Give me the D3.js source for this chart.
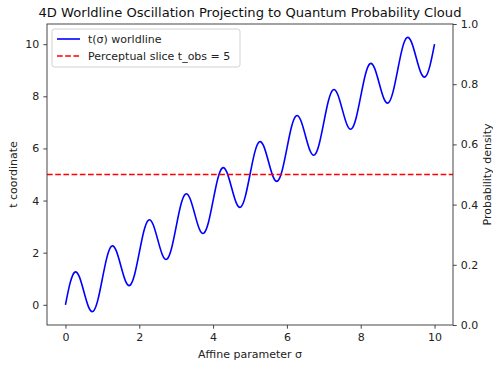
<!DOCTYPE html>
<html>
<head>
<meta charset="utf-8">
<script src="https://cdn.jsdelivr.net/npm/d3@7"></script>
<style>
  body { margin: 0; background: #fff; }
  svg { font-family: "DejaVu Sans", sans-serif; }
</style>
</head>
<body>
<div id="chart"></div>
<script>
// samples of the worldline, every 1/8 of sigma
const sigma = d3.range(81).map(i => i / 8);
const worldline = [
  0, 0.83, 1.25, 1.08, 0.5, -0.08, -0.25, 0.17,
  1, 1.83, 2.25, 2.08, 1.5, 0.92, 0.75, 1.17,
  2, 2.83, 3.25, 3.08, 2.5, 1.92, 1.75, 2.17,
  3, 3.83, 4.25, 4.08, 3.5, 2.92, 2.75, 3.17,
  4, 4.83, 5.25, 5.08, 4.5, 3.92, 3.75, 4.17,
  5, 5.83, 6.25, 6.08, 5.5, 4.92, 4.75, 5.17,
  6, 6.83, 7.25, 7.08, 6.5, 5.92, 5.75, 6.17,
  7, 7.83, 8.25, 8.08, 7.5, 6.92, 6.75, 7.17,
  8, 8.83, 9.25, 9.08, 8.5, 7.92, 7.75, 8.17,
  9, 9.83, 10.25, 10.08, 9.5, 8.92, 8.75, 9.17,
  10
];
const tObs = 5;
const xTicks = [0, 2, 4, 6, 8, 10];
const yTicks = [0, 2, 4, 6, 8, 10];
const densityTicks = [0, 0.2, 0.4, 0.6, 0.8, 1.0];
const legendLabels = ["t(σ) worldline", "Perceptual slice t_obs = 5"];

const width = 493, height = 367;
const margin = {left: 47, right: 40, top: 24, bottom: 42};
const x0 = margin.left, x1 = width - margin.right;
const y0 = height - margin.bottom, y1 = margin.top;
const fs = "11px";

const svg = d3.select("#chart").append("svg")
  .attr("width", width).attr("height", height);

const x = d3.scaleLinear().domain([-0.5, 10.5]).range([x0, x1]);
const y = d3.scaleLinear().domain([-0.775, 10.775]).range([y0, y1]);
const yR = d3.scaleLinear().domain([0, 1]).range([y0, y1]);

// lines
const line = d3.line()
  .x((d, i) => x(sigma[i]))
  .y(d => y(d))
  .curve(d3.curveNatural);

svg.append("path")
  .datum(worldline)
  .attr("d", line)
  .attr("fill", "none")
  .attr("stroke", "#0000ff")
  .attr("stroke-width", 1.6);

svg.append("line")
  .attr("x1", x0).attr("x2", x1)
  .attr("y1", y(tObs)).attr("y2", y(tObs))
  .attr("stroke", "#ff0000")
  .attr("stroke-width", 1.6)
  .attr("stroke-dasharray", "5.7,2.5");

// axes
function styleAxis(g) {
  g.select(".domain").remove();
  g.selectAll(".tick line").attr("stroke", "#333").attr("stroke-width", 0.9);
  g.selectAll(".tick text").attr("fill", "#222").attr("font-size", fs)
    .attr("font-family", "DejaVu Sans, sans-serif");
}

svg.append("g")
  .attr("transform", `translate(0,${y0})`)
  .call(d3.axisBottom(x).tickValues(xTicks).tickSize(3.7).tickPadding(4).tickFormat(d3.format("d")))
  .call(styleAxis);

svg.append("g")
  .attr("transform", `translate(${x0},0)`)
  .call(d3.axisLeft(y).tickValues(yTicks).tickSize(3.7).tickPadding(4).tickFormat(d3.format("d")))
  .call(styleAxis);

svg.append("g")
  .attr("transform", `translate(${x1},0)`)
  .call(d3.axisRight(yR).tickValues(densityTicks).tickSize(3.7).tickPadding(4).tickFormat(d3.format(".1f")))
  .call(styleAxis);

// frame
svg.append("rect")
  .attr("x", x0).attr("y", y1)
  .attr("width", x1 - x0).attr("height", y0 - y1)
  .attr("fill", "none").attr("stroke", "#333").attr("stroke-width", 0.9);

// labels
svg.append("text")
  .attr("x", (x0 + x1) / 2).attr("y", 17)
  .attr("text-anchor", "middle").attr("font-size", "13.1px").attr("fill", "#111")
  .text("4D Worldline Oscillation Projecting to Quantum Probability Cloud");

svg.append("text")
  .attr("x", (x0 + x1) / 2).attr("y", 358)
  .attr("text-anchor", "middle").attr("font-size", fs).attr("fill", "#222")
  .text("Affine parameter σ");

svg.append("text")
  .attr("transform", `translate(17,${(y0 + y1) / 2}) rotate(-90)`)
  .attr("text-anchor", "middle").attr("font-size", fs).attr("fill", "#222")
  .text("t coordinate");

svg.append("text")
  .attr("transform", `translate(491,${(y0 + y1) / 2}) rotate(-90)`)
  .attr("text-anchor", "middle").attr("font-size", fs).attr("fill", "#222")
  .text("Probability density");

// legend
const legend = svg.append("g").attr("transform", "translate(52,29)");
legend.append("rect")
  .attr("width", 188).attr("height", 38).attr("rx", 2.5)
  .attr("fill", "#fff").attr("fill-opacity", 0.8)
  .attr("stroke", "#ccc").attr("stroke-width", 0.9);

const items = legend.selectAll("g.item")
  .data(legendLabels)
  .enter().append("g")
  .attr("class", "item")
  .attr("transform", (d, i) => `translate(5,${10 + i * 17})`);

items.append("line")
  .attr("x1", 0).attr("x2", 23)
  .attr("stroke", (d, i) => i === 0 ? "#0000ff" : "#ff0000")
  .attr("stroke-width", 1.6)
  .attr("stroke-dasharray", (d, i) => i === 0 ? null : "5.7,2.5");

items.append("text")
  .attr("x", 31).attr("y", 4)
  .attr("font-size", fs).attr("fill", "#222")
  .text(d => d);
</script>
</body>
</html>
